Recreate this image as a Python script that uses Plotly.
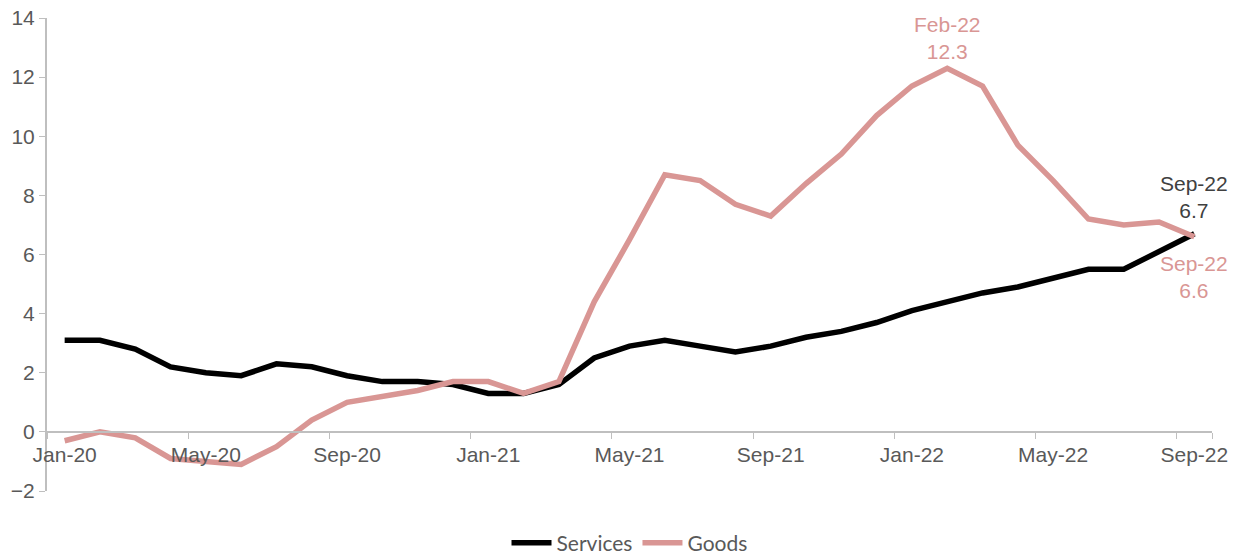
import plotly.graph_objects as go

# Monthly year-over-year inflation, Jan-2020 to Sep-2022
months = [
    "Jan-20", "Feb-20", "Mar-20", "Apr-20", "May-20", "Jun-20", "Jul-20", "Aug-20",
    "Sep-20", "Oct-20", "Nov-20", "Dec-20", "Jan-21", "Feb-21", "Mar-21", "Apr-21",
    "May-21", "Jun-21", "Jul-21", "Aug-21", "Sep-21", "Oct-21", "Nov-21", "Dec-21",
    "Jan-22", "Feb-22", "Mar-22", "Apr-22", "May-22", "Jun-22", "Jul-22", "Aug-22",
    "Sep-22",
]
services = [
    3.1, 3.1, 2.8, 2.2, 2.0, 1.9, 2.3, 2.2,
    1.9, 1.7, 1.7, 1.6, 1.3, 1.3, 1.6, 2.5,
    2.9, 3.1, 2.9, 2.7, 2.9, 3.2, 3.4, 3.7,
    4.1, 4.4, 4.7, 4.9, 5.2, 5.5, 5.5, 6.1,
    6.7,
]
goods = [
    -0.3, 0.0, -0.2, -0.9, -1.0, -1.1, -0.5, 0.4,
    1.0, 1.2, 1.4, 1.7, 1.7, 1.3, 1.7, 4.4,
    6.5, 8.7, 8.5, 7.7, 7.3, 8.4, 9.4, 10.7,
    11.7, 12.3, 11.7, 9.7, 8.5, 7.2, 7.0, 7.1,
    6.6,
]
tick_labels = months[::4]
y_ticks = [-2, 0, 2, 4, 6, 8, 10, 12, 14]

BLACK = "#000000"
PINK = "#D99694"
AXIS = "#BFBFBF"
TEXT = "#595959"
FONT = "Liberation Sans, Arial, sans-serif"

fig = go.Figure()
fig.add_trace(go.Scatter(x=months, y=services, name="Services", mode="lines",
                         line=dict(color=BLACK, width=5.5)))
fig.add_trace(go.Scatter(x=months, y=goods, name="Goods", mode="lines",
                         line=dict(color=PINK, width=5.5)))

# Callouts for the goods peak and the latest readings
i_peak = goods.index(max(goods))
fig.add_annotation(x=months[i_peak], y=goods[i_peak],
                   text=f"{months[i_peak]}<br>{goods[i_peak]}",
                   showarrow=False, yanchor="bottom", yshift=3,
                   font=dict(family=FONT, size=21, color=PINK))
fig.add_annotation(x=months[-1], y=services[-1],
                   text=f"{months[-1]}<br>{services[-1]}",
                   showarrow=False, yanchor="bottom", yshift=10,
                   font=dict(family=FONT, size=21, color="#404040"))
fig.add_annotation(x=months[-1], y=goods[-1],
                   text=f"{months[-1]}<br>{goods[-1]}",
                   showarrow=False, yanchor="top", yshift=-13,
                   font=dict(family=FONT, size=21, color=PINK))

fig.update_layout(
    width=1239, height=555,
    margin=dict(l=47, r=27, t=18, b=64, autoexpand=False),
    paper_bgcolor="white", plot_bgcolor="white",
    font=dict(family=FONT, size=21, color=TEXT),
    showlegend=True,
    legend=dict(orientation="h", x=0.5, xanchor="center", y=-0.11, yanchor="middle",
                font=dict(family="Lato, Liberation Sans, sans-serif", size=21, color=TEXT),
                itemwidth=40, tracegroupgap=0),
    xaxis=dict(
        type="category", range=[-0.5, len(months) - 0.5],
        tickmode="array", tickvals=tick_labels, ticktext=tick_labels,
        tickson="boundaries", ticks="outside", ticklen=6, tickcolor=AXIS,
        tickangle=0, automargin=False, ticklabelstandoff=4,
        showline=True, linecolor=AXIS, linewidth=2,
        showgrid=False, zeroline=False,
        anchor="free", position=2 / 16,
        tickfont=dict(family=FONT, size=21, color=TEXT),
    ),
    yaxis=dict(
        range=[-2, 14], tickvals=y_ticks, automargin=False,
        ticks="outside", ticklen=6, tickcolor=AXIS,
        showline=True, linecolor=AXIS, linewidth=2,
        showgrid=False, zeroline=False,
        tickfont=dict(family=FONT, size=21, color=TEXT),
    ),
)

fig.write_html("out.html")
